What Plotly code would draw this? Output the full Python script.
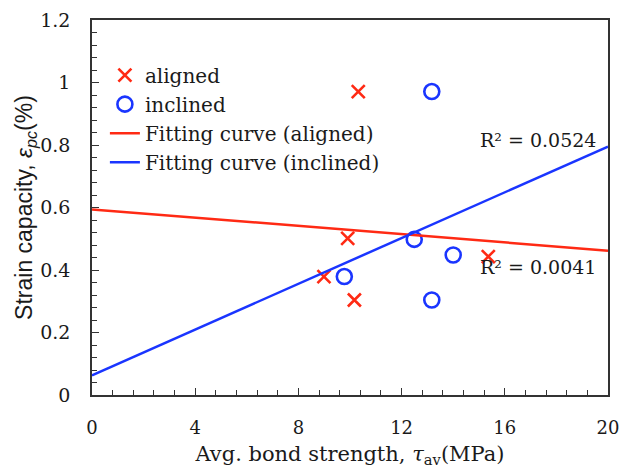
import plotly.graph_objects as go

# data
aligned_x = [10.32, 9.91, 8.99, 10.17, 15.36]
aligned_y = [0.971, 0.501, 0.379, 0.304, 0.443]
inclined_x = [13.17, 12.49, 14.0, 9.78, 13.17]
inclined_y = [0.971, 0.498, 0.448, 0.379, 0.304]
# linear trendlines: [intercept, slope]
fit_aligned = [0.594, -0.0066]
fit_inclined = [0.063, 0.0366]
r2_labels = ["R² = 0.0524", "R² = 0.0041"]
x_range = [0, 20]
y_ticks = [0, 0.2, 0.4, 0.6, 0.8, 1.0, 1.2]
y_ticktext = ["0", "0.2", "0.4", "0.6", "0.8", "1", "1.2"]
x_ticks = [0, 4, 8, 12, 16, 20]

RED = "#FF2A14"
BLUE = "#1A35FF"
SERIF = "DejaVu Serif"
INK = "#1a1a1a"


def line_y(fit, xs):
    return [fit[0] + fit[1] * x for x in xs]


fig = go.Figure()
fig.add_trace(go.Scatter(x=aligned_x, y=aligned_y, mode="markers", name="aligned",
                         marker=dict(symbol="x-thin", size=13, color=RED,
                                     line=dict(color=RED, width=2.6))))
fig.add_trace(go.Scatter(x=inclined_x, y=inclined_y, mode="markers", name="inclined",
                         marker=dict(symbol="circle-open", size=15, color=BLUE,
                                     line=dict(color=BLUE, width=2.6))))
fig.add_trace(go.Scatter(x=x_range, y=line_y(fit_aligned, x_range), mode="lines",
                         name="Fitting curve (aligned)", line=dict(color=RED, width=2.5)))
fig.add_trace(go.Scatter(x=x_range, y=line_y(fit_inclined, x_range), mode="lines",
                         name="Fitting curve (inclined)", line=dict(color=BLUE, width=2.5)))

fig.add_annotation(x=0.98, y=0.775, xref="paper", yref="y", text=r2_labels[0], showarrow=False,
                   xanchor="right", yanchor="bottom", font=dict(family=SERIF, size=19, color=INK))
fig.add_annotation(x=0.98, y=0.41, xref="paper", yref="y", text=r2_labels[1], showarrow=False,
                   xanchor="right", yanchor="middle", font=dict(family=SERIF, size=19, color=INK))

fig.update_layout(
    width=620, height=473,
    margin=dict(l=92, r=12, t=20, b=78, autoexpand=False),
    paper_bgcolor="white", plot_bgcolor="white",
    showlegend=True,
    legend=dict(x=0.025, y=0.905, xanchor="left", yanchor="top",
                bgcolor="rgba(0,0,0,0)", font=dict(family=SERIF, size=20, color=INK),
                itemwidth=30, tracegroupgap=0),
    font=dict(family=SERIF, size=20, color=INK),
)
fig.update_xaxes(range=x_range, tickvals=x_ticks, ticks="inside", ticklen=7,
                 tickcolor="#333", showgrid=False, zeroline=False, showline=True, linecolor="#333",
                 linewidth=1.5, mirror=True, automargin=False, ticklabelstandoff=16,
                 minor=dict(dtick=0.8, ticks="inside", ticklen=5, tickcolor="#333", showgrid=False),
                 tickfont=dict(family=SERIF, size=18, color=INK),
                 title=dict(text="Avg. bond strength, <i>τ</i><sub>av</sub>(MPa)",
                            font=dict(family=SERIF, size=21, color=INK), standoff=9))
fig.update_yaxes(range=[0, 1.2], tickvals=y_ticks, ticktext=y_ticktext,
                 ticks="inside", ticklen=7, tickcolor="#333", showgrid=False, zeroline=False,
                 showline=True, linecolor="#333", linewidth=1.5, mirror=True, automargin=False,
                 ticklabelstandoff=16,
                 minor=dict(dtick=0.04, ticks="inside", ticklen=5, tickcolor="#333", showgrid=False),
                 tickfont=dict(family=SERIF, size=19, color=INK),
                 title=dict(text="Strain capacity, <i>ε<sub>pc</sub></i>(%)",
                            font=dict(family="Liberation Sans", size=23, color=INK), standoff=1))

fig.write_html("out.html", config={"displayModeBar": False},
               post_script="document.body.style.margin='0';document.body.style.overflow='hidden';")
